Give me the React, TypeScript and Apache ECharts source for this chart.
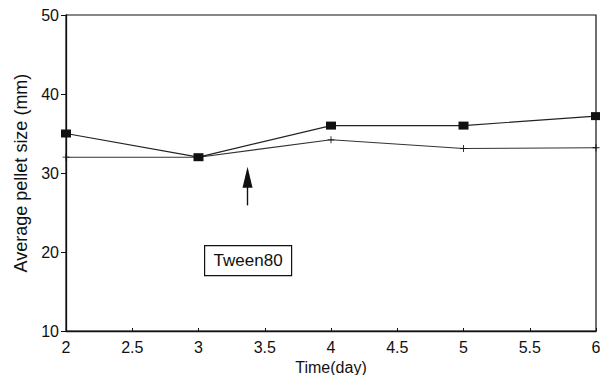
import React, { useEffect, useRef } from "react";
import * as echarts from "echarts";

const days = [2, 3, 4, 5, 6];
const seriesSquare = [35, 32, 36, 36, 37.2];
const seriesCross = [32, 32, 34.2, 33.1, 33.2];
const arrowX = 3.37;
const arrowFrom = 25.9;
const arrowTo = 29.45;
const boxLabel = "Tween80";

const FONT = "'Liberation Sans', Arial, Helvetica, sans-serif";

export default function App() {
  const ref = useRef<HTMLDivElement>(null);
  useEffect(() => {
    if (!ref.current) return;
    const chart = echarts.init(ref.current, undefined, { renderer: "svg" });
    const crossPath = "path://M4.4,0H5.6V4.4H10V5.6H5.6V10H4.4V5.6H0V4.4H4.4Z";
    chart.setOption({
      animation: false,
      backgroundColor: "#fff",
      grid: {
        left: 66,
        right: 4,
        top: 15,
        bottom: 44,
        show: true,
        borderColor: "#111",
        borderWidth: 1.2,
        containLabel: false,
        outerBoundsMode: "none",
      },
      xAxis: {
        type: "value",
        min: 2,
        max: 6,
        interval: 0.5,
        name: "Time(day)",
        nameLocation: "middle",
        nameGap: 23,
        nameTextStyle: { color: "#111", fontFamily: FONT, fontSize: 16 },
        axisLine: { lineStyle: { color: "#111", width: 1.3 } },
        axisTick: { inside: true, length: 3, lineStyle: { color: "#111" } },
        axisLabel: {
          color: "#111",
          fontFamily: FONT,
          fontSize: 16,
          margin: 8,
          formatter: (v: number) => String(v),
        },
        splitLine: { show: false },
      },
      yAxis: {
        type: "value",
        min: 10,
        max: 50,
        interval: 10,
        name: "Average pellet size (mm)",
        nameLocation: "middle",
        nameGap: 34,
        nameTextStyle: { color: "#111", fontFamily: FONT, fontSize: 18 },
        axisLine: { lineStyle: { color: "#111", width: 1.3 } },
        axisTick: { inside: false, length: 5, lineStyle: { color: "#111" } },
        axisLabel: { color: "#111", fontFamily: FONT, fontSize: 16, margin: 7 },
        splitLine: { show: false },
      },
      series: [
        {
          type: "line",
          data: days.map((d, i) => [d, seriesSquare[i]]),
          symbol: "rect",
          symbolSize: [10, 8],
          clip: false,
          lineStyle: { color: "#222", width: 1.2 },
          itemStyle: { color: "#111" },
          z: 3,
        },
        {
          type: "line",
          data: days.map((d, i) => [d, seriesCross[i]]),
          symbol: crossPath,
          symbolSize: 7,
          clip: false,
          lineStyle: { color: "#333", width: 1.1 },
          itemStyle: { color: "#111" },
          z: 2,
          markLine: {
            silent: true,
            symbol: ["none", "triangle"],
            symbolSize: [10, 21],
            label: { show: false },
            lineStyle: { color: "#111", type: "solid", width: 1.4 },
            data: [
              [
                { coord: [arrowX, arrowFrom] },
                { coord: [arrowX, arrowTo] },
              ],
            ],
          },
        },
      ],
      graphic: [
        {
          type: "group",
          left: 204,
          top: 245,
          children: [
            {
              type: "rect",
              shape: { x: 0, y: 0, width: 87, height: 30 },
              style: { fill: "#fff", stroke: "#111", lineWidth: 1.2 },
            },
            {
              type: "text",
              x: 43.5,
              y: 15,
              style: {
                text: boxLabel,
                fill: "#111",
                font: `17px ${FONT}`,
                align: "center",
                verticalAlign: "middle",
              },
            },
          ],
        },
      ],
    });
    return () => chart.dispose();
  }, []);
  return <div ref={ref} style={{ width: 600, height: 375, position: "absolute", left: 0, top: 0 }} />;
}
